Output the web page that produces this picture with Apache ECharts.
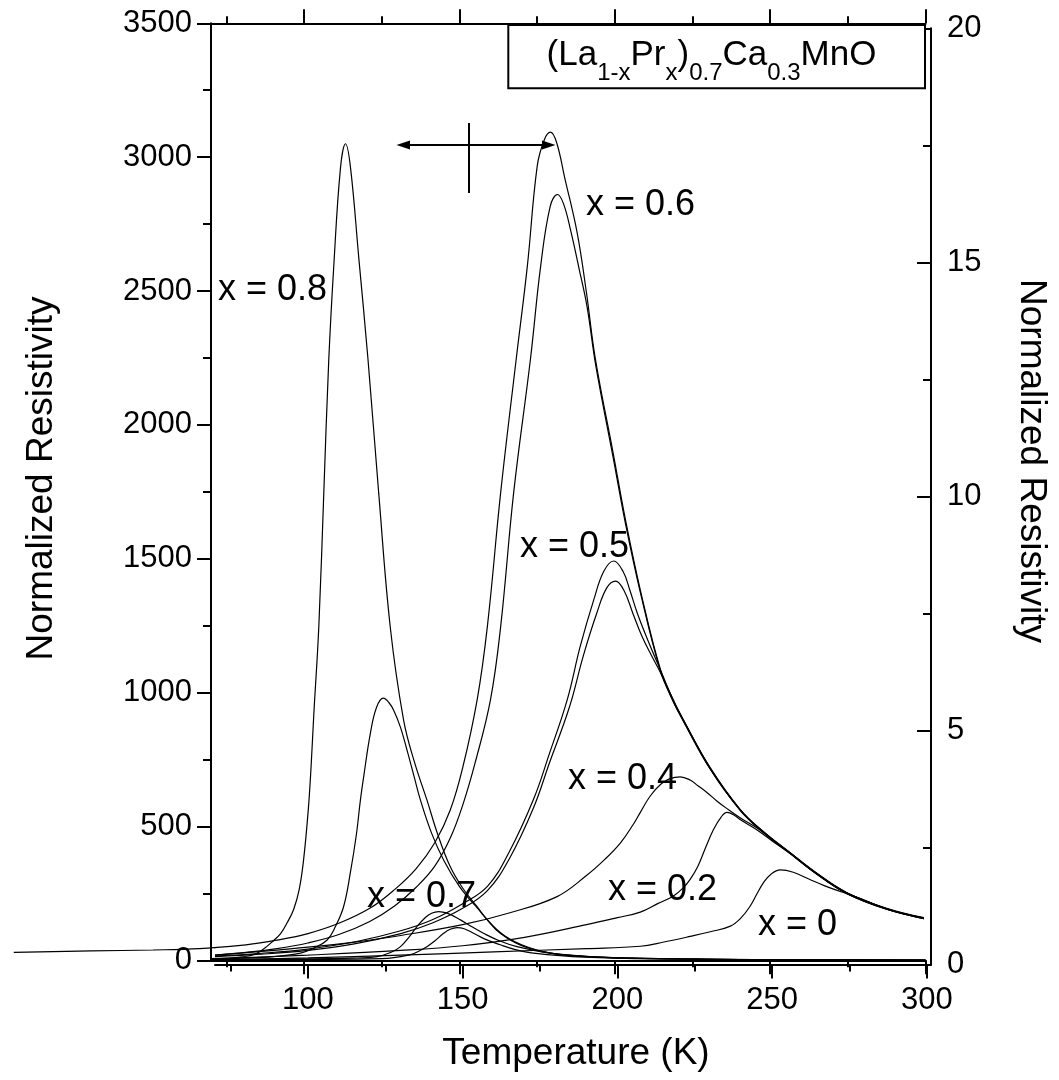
<!DOCTYPE html>
<html><head><meta charset="utf-8">
<script src="https://cdn.jsdelivr.net/npm/echarts@6/dist/echarts.min.js"></script>
<style>html,body{margin:0;padding:0;background:#fff;}#c{width:1059px;height:1080px;}</style>
</head><body><div id="c"></div>
<script>
const FONT = 'Liberation Sans, Arial, sans-serif';

// tick values
const xTicks = [100, 150, 200, 250, 300];
const xMinorTicks = [75, 125, 175, 225, 275];

// ---- curves read against the LEFT axis (Temperature K, normalized resistivity) ----
const x08a = [[70,6],[75,8],[80,13],[84,22],[86.9,42],[89.6,68],[92.4,100],[94.5,140],[96.6,190],[98.4,265],[99.8,375],[101.3,560],[102.2,720],[103.1,920],[104.7,1245],[106.3,1743],[107.9,2240],[109.5,2589],[111.7,2962],[113.3,3050],[114.9,2962],[117.6,2620],[120.5,2250],[124,1743],[127.7,1245],[132,897],[135.5,740],[139.5,599],[143,470],[147,350],[151,270],[155.6,201],[159,150],[163.1,101],[170,55],[179.2,27],[190,15],[205,8],[230,4],[260,2],[300,1]];
const x08b = [[70,5],[80,8],[90,14],[98.8,27],[103,45],[107.4,76],[110,125],[112.7,201],[114.9,330],[116.8,470],[118.1,599],[119.2,690],[121.3,848],[123.3,945],[125.5,979],[127.3,962],[128.8,934],[131,870],[133.1,785],[135.3,690],[137.4,599],[141,475],[145,372],[150,275],[155,205],[163,105],[170,58],[179,28],[190,15],[205,8],[230,4],[260,2],[300,1]];
const x07a = [[70,3],[100,5],[115,8],[123.5,14],[128,30],[131,51],[134,90],[136.3,126],[139,160],[141,176],[143.3,182],[146,176],[150.3,151],[154,125],[157.7,101],[163,72],[168.5,51],[179.2,27],[195,12],[220,5],[260,2],[300,1]];
const x07b = [[70,2],[100,3],[125,6],[134.2,21],[137,35],[139.5,51],[142,72],[144.9,101],[147,116],[149.2,122],[151.5,118],[154.5,101],[158,80],[163.1,58],[168,40],[173.8,27],[190,12],[220,5],[260,2],[300,1]];

// ---- curves read against the RIGHT axis ----
const x06a = [[5,0.26],[30,0.29],[50,0.31],[65,0.34],[80,0.42],[90,0.52],[100,0.66],[110,0.88],[120,1.2],[128,1.6],[135,2.05],[141,2.6],[146,3.3],[150,4.2],[154.7,5.66],[158,7.23],[162.3,10.09],[167.3,12.93],[170.9,14.92],[174.1,17.06],[176.4,17.62],[178.4,17.78],[180.4,17.55],[183,16.8],[187,15.63],[190,14.35],[192.9,12.93],[198.7,10.9],[202.6,9.5],[207.4,8.0],[213.9,6.3],[218,5.66],[221.3,5.23],[230,4.2],[239.7,3.31],[247,2.85],[255.8,2.39],[264,1.97],[274,1.54],[287,1.2],[299,1.0]];
const x06b = [[70,0.2],[80,0.26],[90,0.34],[100,0.46],[110,0.64],[120,0.92],[128,1.25],[135,1.65],[141,2.1],[146,2.7],[150,3.4],[154,4.3],[159,5.66],[162.3,7.23],[166.5,10.09],[171.9,12.93],[175.2,14.92],[178.3,16.2],[180.6,16.45],[182.6,16.25],[185,15.65],[187.5,14.9],[190.2,14.05],[193,12.8],[198.7,10.8],[202.6,9.42],[207.4,7.95],[213.9,6.27],[218,5.63],[221.3,5.21],[230,4.18],[239.7,3.3],[247,2.84],[255.8,2.38],[264,1.96],[274,1.53],[287,1.19],[299,0.99]];
const x05a = [[70,0.18],[85,0.24],[100,0.33],[115,0.48],[130,0.72],[140,0.95],[150,1.3],[158,1.67],[165,2.4],[172.9,3.53],[178,4.5],[183.8,5.66],[188,6.8],[192.4,7.8],[195.6,8.4],[198.8,8.62],[201.8,8.4],[204,8.0],[206.4,7.51],[210,6.9],[213.9,6.29],[218,5.65],[221.3,5.22],[230,4.19],[239.7,3.3],[247,2.84],[255.8,2.38],[264,1.96],[274,1.53],[287,1.19],[299,0.99]];
const x05b = [[70,0.17],[85,0.22],[100,0.3],[115,0.44],[130,0.66],[140,0.88],[150,1.2],[158,1.58],[165,2.25],[172.9,3.35],[178,4.3],[184.5,5.5],[189,6.6],[193.4,7.52],[196.6,8.05],[199.4,8.19],[202.2,7.98],[205,7.5],[208,7.0],[211,6.6],[214,6.22],[218,5.62],[221.3,5.2],[230,4.17],[239.7,3.29],[247,2.83],[255.8,2.37],[264,1.95],[274,1.52],[287,1.18],[299,0.98]];
const x04 = [[70,0.2],[85,0.28],[100,0.37],[115,0.48],[130,0.62],[150,0.85],[165,1.1],[180.5,1.45],[190,1.9],[196,2.25],[201,2.6],[205,2.98],[207.4,3.25],[210.6,3.6],[214,3.85],[217,3.97],[220.3,4.01],[223.5,3.94],[226,3.82],[229,3.67],[232,3.5],[235.4,3.33],[240,3.12],[245,2.92],[250,2.67],[255.8,2.38],[264,1.96],[274,1.53],[287,1.19],[299,0.99]];
const x02 = [[70,0.12],[100,0.2],[130,0.3],[150,0.4],[170,0.58],[190,0.85],[200,1.0],[207.4,1.12],[213,1.3],[218,1.46],[221,1.62],[223.5,1.82],[226,2.1],[228.5,2.5],[231,2.88],[233.5,3.15],[235.4,3.25],[237.5,3.2],[240,3.08],[245,2.88],[250,2.64],[255.8,2.37],[264,1.95],[274,1.52],[287,1.18],[299,0.98]];
const x00 = [[70,0.1],[100,0.14],[130,0.2],[160,0.27],[190,0.34],[207.4,0.39],[215,0.48],[223.5,0.6],[230,0.7],[236.5,0.82],[240,1.0],[242.9,1.25],[245,1.5],[247.2,1.75],[249.6,1.93],[252.6,2.02],[256.8,1.97],[262,1.82],[267,1.68],[272,1.56],[279,1.4],[287,1.18],[299,0.98]];

// annotation texts
const annotations = ['x = 0.8', 'x = 0.6', 'x = 0.5', 'x = 0.4', 'x = 0.7', 'x = 0.2', 'x = 0'];

const chart = echarts.init(document.getElementById('c'), null, {renderer: 'canvas'});

const AX = {color: '#000', width: 2};
function xAxisDef(grid, pos, max, ticks, len, line, labels) {
  return {
    type: 'value', gridIndex: grid, position: pos, min: 70, max: max,
    axisLine: {show: line, onZero: false, lineStyle: AX},
    axisTick: {show: true, customValues: ticks, length: len, inside: false, lineStyle: AX},
    axisLabel: labels ? {show: true, customValues: ticks, fontSize: 31, fontFamily: FONT, color: '#000', margin: 20} : {show: false},
    splitLine: {show: false}
  };
}

function line(name, data, xi, yi, extra) {
  return Object.assign({
    type: 'line', name: name, data: data, xAxisIndex: xi, yAxisIndex: yi,
    showSymbol: false, symbol: 'none', smooth: 0.4,
    lineStyle: {color: '#000', width: 1.2}, silent: true
  }, extra || {});
}

// formula box text pieces
const ctx = document.createElement('canvas').getContext('2d');
function tw(t, s) { ctx.font = s + 'px ' + FONT; return ctx.measureText(t).width; }
const pieces = [['(La', 0], ['1-x', 1], ['Pr', 0], ['x', 1], [')', 0], ['0.7', 1], ['Ca', 0], ['0.3', 1], ['MnO', 0]];
const MAIN = 35, SUB = 24;
let total = 0;
pieces.forEach(p => { total += tw(p[0], p[1] ? SUB : MAIN); });
let cx = 711.5 - total / 2;
const formulaTexts = pieces.map(p => {
  const s = p[1] ? SUB : MAIN;
  const el = {type: 'text', x: cx, y: p[1] ? 73 : 55, z: 20,
    style: {text: p[0], fontSize: s, fontFamily: FONT, fill: '#000', align: 'left', verticalAlign: 'middle'}};
  cx += tw(p[0], s);
  return el;
});

const annPos = [[218, 290], [586, 205], [520, 547], [568, 779], [367, 897], [608, 890], [758, 925]];
const annTexts = annotations.map((t, i) => ({
  type: 'text', x: annPos[i][0], y: annPos[i][1], z: 20,
  style: {text: t, fontSize: 36, fontFamily: FONT, fill: '#000', align: 'left', verticalAlign: 'middle'}
}));

// the low-temperature part of x = 0.6 (a) runs past the left axis: drawn on an
// invisible grid that continues the right-hand temperature scale to the left
const PXK = 716 / (301.3 - 70);
const x06aLow = x06a.filter(p => p[0] <= 80);

const option = {
  animation: false,
  backgroundColor: '#fff',
  grid: [
    {left: 211, top: 23.3, width: 714.5, height: 937},
    {left: 215, top: 28.3, width: 716, height: 936.2},
    {left: 215 - 66 * PXK, top: 28.3, width: 66 * PXK, height: 936.2}
  ],
  xAxis: [
    xAxisDef(0, 'bottom', 300, xTicks, 14, true, false),
    xAxisDef(0, 'bottom', 300, xMinorTicks, 7, false, false),
    xAxisDef(0, 'top', 300, xTicks, 14, true, false),
    xAxisDef(0, 'top', 300, xMinorTicks, 7, false, false),
    xAxisDef(1, 'bottom', 301.3, xTicks, 14, true, true),
    xAxisDef(1, 'bottom', 301.3, xMinorTicks, 7, false, false),
    {type: 'value', gridIndex: 2, min: 4, max: 70, show: false}
  ],
  yAxis: [
    {type: 'value', gridIndex: 0, position: 'left', min: 0, max: 3500, interval: 500,
      axisLine: {show: true, onZero: false, lineStyle: AX},
      axisTick: {show: true, length: 14, inside: false, lineStyle: AX},
      minorTick: {show: true, splitNumber: 2, length: 8, lineStyle: AX},
      axisLabel: {fontSize: 31, fontFamily: FONT, color: '#000', margin: 19, formatter: v => String(v)},
      splitLine: {show: false}, minorSplitLine: {show: false}},
    {type: 'value', gridIndex: 1, position: 'right', min: 0, max: 20, interval: 5,
      axisLine: {show: true, onZero: false, lineStyle: AX},
      axisTick: {show: true, length: 14, inside: true, lineStyle: AX},
      minorTick: {show: true, splitNumber: 2, length: 8, lineStyle: AX},
      axisLabel: {fontSize: 31, fontFamily: FONT, color: '#000', margin: 16, formatter: v => String(v)},
      splitLine: {show: false}, minorSplitLine: {show: false}},
    {type: 'value', gridIndex: 2, min: 0, max: 20, show: false}
  ],
  series: [
    line('x = 0.8', x08a, 0, 0),
    line('x = 0.8 (b)', x08b, 0, 0),
    line('x = 0.7 (a)', x07a, 0, 0),
    line('x = 0.7 (b)', x07b, 0, 0),
    line('x = 0.6 (a)', x06a, 4, 1),
    line('x = 0.6 (a) low T', x06aLow, 6, 2),
    line('x = 0.6 (b)', x06b, 4, 1),
    line('x = 0.5 (a)', x05a, 4, 1),
    line('x = 0.5 (b)', x05b, 4, 1),
    line('x = 0.4', x04, 4, 1),
    line('x = 0.2', x02, 4, 1),
    line('x = 0', x00, 4, 1)
  ],
  graphic: [
    {type: 'rect', z: 15, shape: {x: 508.3, y: 25, width: 416.7, height: 63.3},
      style: {fill: '#fff', stroke: '#000', lineWidth: 2}},
    ...formulaTexts,
    ...annTexts,
    // arrow: left axis <-|-> right axis
    {type: 'line', z: 20, shape: {x1: 405, y1: 145, x2: 547, y2: 145}, style: {stroke: '#000', lineWidth: 2}},
    {type: 'line', z: 20, shape: {x1: 469, y1: 123, x2: 469, y2: 193}, style: {stroke: '#000', lineWidth: 2}},
    {type: 'polygon', z: 20, shape: {points: [[396.5, 145], [410, 140.5], [410, 149.5]]}, style: {fill: '#000'}},
    {type: 'polygon', z: 20, shape: {points: [[555.5, 145], [542, 140.5], [542, 149.5]]}, style: {fill: '#000'}},
    // axis titles
    {type: 'text', x: 41.5, y: 478.5, rotation: Math.PI / 2, z: 20,
      style: {text: 'Normalized Resistivity', fontSize: 37, fontFamily: FONT, fill: '#000', align: 'center', verticalAlign: 'middle'}},
    {type: 'text', x: 1031.5, y: 461, rotation: -Math.PI / 2, z: 20,
      style: {text: 'Normalized Resistivity', fontSize: 37, fontFamily: FONT, fill: '#000', align: 'center', verticalAlign: 'middle'}},
    {type: 'text', x: 576, y: 1054, z: 20,
      style: {text: 'Temperature (K)', fontSize: 37, fontFamily: FONT, fill: '#000', align: 'center', verticalAlign: 'middle'}}
  ]
};
chart.setOption(option);
</script>
</body></html>
